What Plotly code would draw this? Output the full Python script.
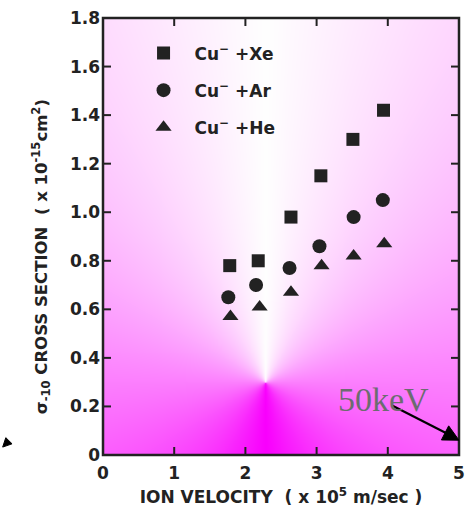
import base64
import struct
import zlib

import numpy as np
import plotly.graph_objects as go

# ---- data ----
vel_xe = [1.78, 2.18, 2.64, 3.06, 3.51, 3.94]
sig_xe = [0.78, 0.80, 0.98, 1.15, 1.30, 1.42]
vel_ar = [1.76, 2.15, 2.62, 3.04, 3.52, 3.93]
sig_ar = [0.65, 0.70, 0.77, 0.86, 0.98, 1.05]
vel_he = [1.79, 2.20, 2.64, 3.07, 3.52, 3.95]
sig_he = [0.57, 0.61, 0.67, 0.78, 0.82, 0.87]

names = ["Cu<sup>−</sup> +Xe", "Cu<sup>−</sup> +Ar", "Cu<sup>−</sup> +He"]
x_ticks = [0, 1, 2, 3, 4, 5]
x_ticklabels = ["0", "1", "2", "3", "4", "5"]
y_ticks = [0, 0.2, 0.4, 0.6, 0.8, 1.0, 1.2, 1.4, 1.6, 1.8]
y_ticklabels = ["0", "0.2", "0.4", "0.6", "0.8", "1.0", "1.2", "1.4", "1.6", "1.8"]

# ---- layout geometry ----
W, H = 473, 515
ML, MR, MT, MB = 103, 8, 14, 60
PW, PH = W - ML - MR, H - MT - MB
XMAX, YMAX = 5, 1.8


# ---- conic background gradient (decoration, drawn as a layout image) ----
def conic_png(w, h, cx_px, cy_px):
    jj, ii = np.meshgrid(np.arange(w) + 0.5, np.arange(h) + 0.5)
    dx = jj - cx_px
    dy = cy_px - ii  # positive = above centre
    t = np.arctan2(np.abs(dx), dy) / np.pi  # 0 = up, 1 = down
    r = 255 - 6 * t
    g = 255 * (1 - t)
    b = 255 - 2 * t
    img = np.stack([r, g, b], axis=-1).clip(0, 255).astype(np.uint8)
    raw = b"".join(b"\x00" + img[k].tobytes() for k in range(h))

    def chunk(tag, data):
        c = tag + data
        return struct.pack(">I", len(data)) + c + struct.pack(">I", zlib.crc32(c) & 0xFFFFFFFF)

    png = (b"\x89PNG\r\n\x1a\n"
           + chunk(b"IHDR", struct.pack(">IIBBBBB", w, h, 8, 2, 0, 0, 0))
           + chunk(b"IDAT", zlib.compress(raw, 9))
           + chunk(b"IEND", b""))
    return "data:image/png;base64," + base64.b64encode(png).decode()


cx, cy = 2.285, 0.298
bg_src = conic_png(PW, PH, cx / XMAX * PW, (YMAX - cy) / YMAX * PH)

fig = go.Figure()
ink = "#222"
series = [
    (vel_xe, sig_xe, "square", 13),
    (vel_ar, sig_ar, "circle", 14),
    (vel_he, sig_he, "triangle-up", 14),
]
for i, (xs, ys, sym, sz) in enumerate(series):
    fig.add_trace(go.Scatter(
        x=xs, y=ys, mode="markers", name=names[i], legendgroup=str(i),
        marker=dict(symbol=sym, size=sz, color=ink, line=dict(width=0)),
    ))

font_main = "DejaVu Sans"
axis_common = dict(
    showline=False, ticks="", showgrid=False, zeroline=False,
    tickfont=dict(family=font_main, size=17, color=ink, weight="bold"),
)

pad = "&nbsp;" * 7
fig.update_layout(
    width=W, height=H,
    margin=dict(l=ML, r=MR, t=MT, b=MB),
    paper_bgcolor="white", plot_bgcolor="white",
    font=dict(family=font_main, color=ink),
    xaxis=dict(range=[0, XMAX], tickvals=x_ticks, ticktext=x_ticklabels,
               ticklabelstandoff=6,
               title=dict(text="ION VELOCITY  ( x 10<sup>5</sup> m/sec )",
                          font=dict(family=font_main, size=17, color=ink, weight="bold"),
                          standoff=9),
               **axis_common),
    yaxis=dict(range=[0, YMAX], tickvals=y_ticks, ticktext=y_ticklabels,
               ticklabelstandoff=2,
               title=dict(text="σ<sub>-10</sub> CROSS SECTION  ( x 10<sup>-15</sup>cm<sup>2</sup>)" + pad,
                          font=dict(family=font_main, size=16.5, color=ink, weight="bold"),
                          standoff=18),
               **axis_common),
    legend=dict(x=0.083, y=0.96, xanchor="left", yanchor="top",
                bgcolor="rgba(0,0,0,0)", borderwidth=0,
                font=dict(family=font_main, size=17, color=ink, weight="bold"),
                itemwidth=52, tracegroupgap=12),
    images=[dict(source=bg_src, xref="x", yref="y", x=0, y=YMAX,
                 sizex=XMAX, sizey=YMAX, sizing="stretch", layer="below")],
)

# ---- frame and inward ticks on all four sides ----
TICK = 8
tick_line = dict(color=ink, width=2)
for v in x_ticks[1:-1]:
    fig.add_shape(type="line", xref="x", yref="paper", ysizemode="pixel", yanchor=0,
                  x0=v, x1=v, y0=0, y1=TICK, line=tick_line, layer="above")
    fig.add_shape(type="line", xref="x", yref="paper", ysizemode="pixel", yanchor=1,
                  x0=v, x1=v, y0=0, y1=-TICK, line=tick_line, layer="above")
for v in y_ticks[1:-1]:
    fig.add_shape(type="line", yref="y", xref="paper", xsizemode="pixel", xanchor=0,
                  y0=v, y1=v, x0=0, x1=TICK, line=tick_line, layer="above")
    fig.add_shape(type="line", yref="y", xref="paper", xsizemode="pixel", xanchor=1,
                  y0=v, y1=v, x0=0, x1=-TICK, line=tick_line, layer="above")
fig.add_shape(type="rect", xref="paper", yref="paper", x0=0, x1=1, y0=0, y1=1,
              line=dict(color=ink, width=2.5), fillcolor="rgba(0,0,0,0)", layer="above")

# 50keV label
fig.add_annotation(x=3.94, y=0.23, xref="x", yref="y", text="50keV", showarrow=False,
                   font=dict(family="Liberation Serif", size=34, color="#6c6c70"))

# arrow from the label to the corner (line + filled head)
fig.add_shape(type="line", xref="x", yref="y", x0=4.06, y0=0.204, x1=4.81, y1=0.092,
              line=dict(color="black", width=2.2), layer="above")
fig.add_shape(type="path", xref="x", yref="y",
              path="M 5.0,0.061 L 4.753,0.062 L 4.855,0.120 Z",
              fillcolor="black", line=dict(color="black", width=1), layer="above")
# stray arrowhead at the left edge
fig.add_shape(type="path", xref="paper", yref="paper",
              path="M -0.2818,0.0181 L -0.2555,0.0256 L -0.2730,0.0397 Z",
              fillcolor="black", line=dict(color="black", width=1), layer="above")

fig.write_html("out.html", config={"displayModeBar": False},
               post_script="document.body.style.margin='0';")
